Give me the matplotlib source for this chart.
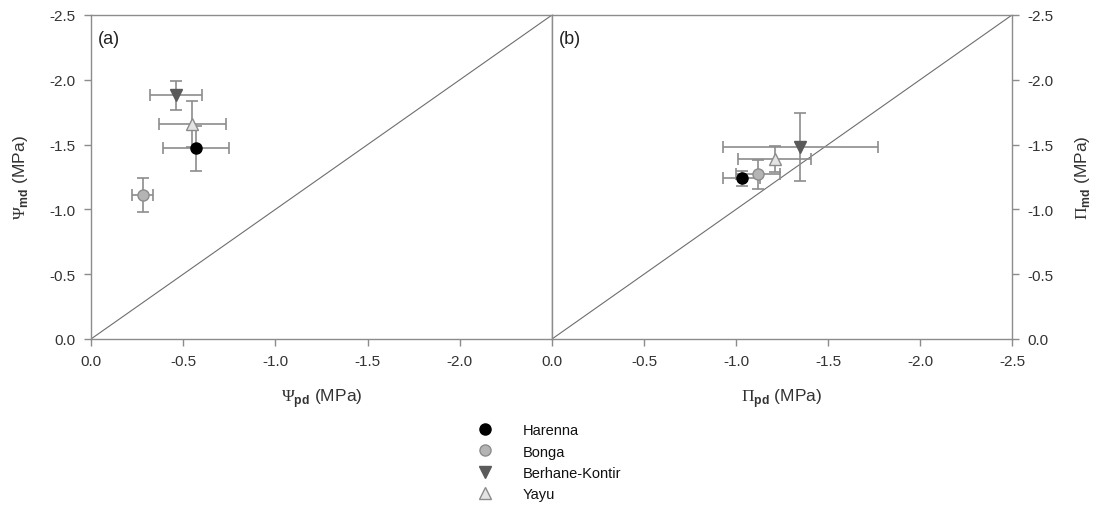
import numpy as np
import matplotlib
matplotlib.use("Agg")
import matplotlib.pyplot as plt

plt.rcParams['font.family'] = ['Liberation Sans', 'DejaVu Sans']
plt.rcParams['mathtext.fontset'] = 'custom'
plt.rcParams['mathtext.rm'] = 'Liberation Serif'
plt.rcParams['mathtext.sf'] = 'Liberation Sans:bold'

# data
sites = ['Harenna', 'Bonga', 'Berhane-Kontir', 'Yayu']

# panel (a): water potential, predawn vs midday
psi_pd = [-0.57, -0.28, -0.46, -0.55]
psi_pd_err = [0.18, 0.055, 0.14, 0.18]
psi_md = [-1.47, -1.11, -1.88, -1.66]
psi_md_err = [0.17, 0.13, 0.11, 0.18]

# panel (b): osmotic potential, predawn vs midday
pi_pd = [-1.03, -1.12, -1.35, -1.21]
pi_pd_err = [0.10, 0.12, 0.42, 0.20]
pi_md = [-1.24, -1.27, -1.48, -1.39]
pi_md_err = [0.06, 0.11, 0.26, 0.10]

# styles
markers = ['o', 'o', 'v', '^']
faces = ['black', '#b4b4b4', '#5a5a5a', '#e4e4e4']
edges = ['black', '#8c8c8c', '#5a5a5a', '#8c8c8c']

spine_col = '#8c8c8c'
err_col = '#8c8c8c'

fig = plt.figure(figsize=(10.94, 5.10), dpi=100)
ax1 = fig.add_axes([91 / 1094, 1 - 340 / 510, 461 / 1094, 324 / 510])
ax2 = fig.add_axes([552 / 1094, 1 - 340 / 510, 460 / 1094, 324 / 510])


def draw_panel(ax, xs, xe, ys, ye, tag):
    ax.plot([0, -2.5], [0, -2.5], color='#6e6e6e', lw=0.8, zorder=1)
    for i in range(len(sites)):
        ax.errorbar(xs[i], ys[i], xerr=xe[i], yerr=ye[i], fmt='none',
                    ecolor=err_col, elinewidth=1.2, capsize=4, capthick=1.2,
                    zorder=2)
        ax.plot(xs[i], ys[i], linestyle='none', marker=markers[i],
                markersize=8, markerfacecolor=faces[i],
                markeredgecolor=edges[i], markeredgewidth=1.0, zorder=3,
                label=sites[i])
    ax.set_xlim(0, -2.5)
    ax.set_ylim(0, -2.5)
    for s in ax.spines.values():
        s.set_color(spine_col)
        s.set_linewidth(1.0)
    ax.tick_params(direction='out', length=5, width=1.0, color=spine_col,
                   labelsize=11, labelcolor='#333333', pad=6)
    ax.text(0.015, 0.955, tag, transform=ax.transAxes, fontsize=13,
            va='top', ha='left', color='#222222')


draw_panel(ax1, psi_pd, psi_pd_err, psi_md, psi_md_err, '(a)')
draw_panel(ax2, pi_pd, pi_pd_err, pi_md, pi_md_err, '(b)')

fmt = matplotlib.ticker.FormatStrFormatter('%.1f')
ax1.set_xticks([0, -0.5, -1.0, -1.5, -2.0])
ax1.set_yticks([0, -0.5, -1.0, -1.5, -2.0, -2.5])
ax1.xaxis.set_major_formatter(fmt)
ax1.yaxis.set_major_formatter(fmt)
ax1.set_xlabel(r'$\Psi_{\mathsf{pd}}$ (MPa)', fontsize=12.5, color='#333333',
               labelpad=13)
ax1.set_ylabel(r'$\Psi_{\mathsf{md}}$ (MPa)', fontsize=12.5, color='#333333',
               labelpad=14)

ax2.set_xticks([0, -0.5, -1.0, -1.5, -2.0, -2.5])
ax2.set_yticks([0, -0.5, -1.0, -1.5, -2.0, -2.5])
ax2.xaxis.set_major_formatter(fmt)
ax2.yaxis.set_major_formatter(fmt)
ax2.yaxis.tick_right()
ax2.yaxis.set_label_position('right')
ax2.set_xlabel(r'$\Pi_{\mathsf{pd}}$ (MPa)', fontsize=12.5, color='#333333',
               labelpad=13)
ax2.set_ylabel(r'$\Pi_{\mathsf{md}}$ (MPa)', fontsize=12.5, color='#333333',
               labelpad=14, rotation=90)

handles, labels = ax1.get_legend_handles_labels()
fig.legend(handles, labels, loc='upper left',
           bbox_to_anchor=(467 / 1094, 1 - 417 / 510), frameon=False,
           fontsize=10.5, labelspacing=0.5, handletextpad=1.8,
           handlelength=1.5, borderpad=0, labelcolor='#111111')

fig.savefig('out.png', dpi=100)
